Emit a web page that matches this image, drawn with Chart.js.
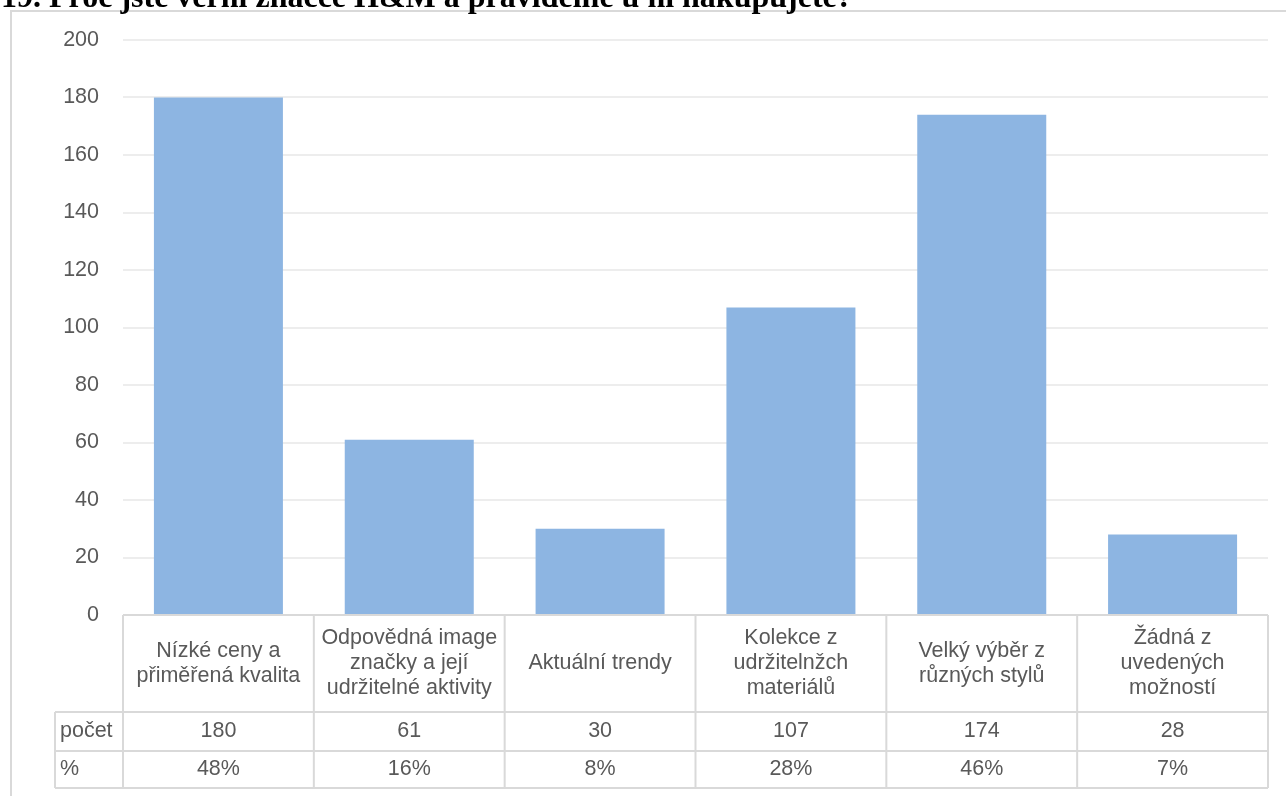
<!DOCTYPE html>
<html lang="cs">
<head>
  <meta charset="UTF-8">
  <title>Proč jste věrni značce H&amp;M</title>
  <script src="https://cdn.jsdelivr.net/npm/chart.js@4.4.1/dist/chart.umd.min.js"></script>
  <style>
    html, body { margin: 0; padding: 0; background: #fff; }
  </style>
</head>
<body>
  <canvas id="hmChart" width="1286" height="796"></canvas>

  <script>
    // data
    const titleText = '19. Proč jste věrni značce H&M a pravidelně u ni nakupujete?';
    const categories = [
      ['Nízké ceny a', 'přiměřená kvalita'],
      ['Odpovědná image', 'značky a její', 'udržitelné aktivity'],
      ['Aktuální trendy'],
      ['Kolekce z', 'udržitelnžch', 'materiálů'],
      ['Velký výběr z', 'různých stylů'],
      ['Žádná z', 'uvedených', 'možností']
    ];
    const counts = [180, 61, 30, 107, 174, 28];
    const percents = [48, 16, 8, 28, 46, 7];
    const rowNames = ['počet', '%'];
    const yMin = 0, yMax = 200, yStep = 20;

    const FONT = '"Liberation Sans", Arial, sans-serif';
    const TEXT = '#595959';
    const LINE = '#d9d9d9';

    // frame, title and the data table under the axis
    const tablePlugin = {
      id: 'tablePlugin',
      beforeDraw(chart) {
        const ctx = chart.ctx;
        ctx.save();
        ctx.fillStyle = '#fff';
        ctx.fillRect(0, 0, chart.width, chart.height);
        ctx.strokeStyle = LINE;
        ctx.lineWidth = 2;
        ctx.beginPath();
        ctx.moveTo(11, chart.height);
        ctx.lineTo(11, 11);
        ctx.lineTo(chart.width, 11);
        ctx.stroke();
        ctx.restore();
      },
      afterDraw(chart) {
        const { ctx, chartArea } = chart;
        const x = chart.scales.x;
        const half = (x.getPixelForValue(1) - x.getPixelForValue(0)) / 2;
        const top = chartArea.bottom;
        const r1 = 712, r2 = 751, r3 = 788;
        const left = 55;

        ctx.save();
        ctx.strokeStyle = LINE;
        ctx.lineWidth = 2;
        ctx.beginPath();
        // horizontal lines
        ctx.moveTo(x.getPixelForValue(0) - half, top); ctx.lineTo(chartArea.right, top);
        [r1, r2, r3].forEach(y => { ctx.moveTo(left, y); ctx.lineTo(chartArea.right, y); });
        // vertical lines
        ctx.moveTo(left, r1); ctx.lineTo(left, r3);
        for (let i = 0; i <= categories.length; i++) {
          const px = x.getPixelForValue(i) - half;
          ctx.moveTo(px, top); ctx.lineTo(px, r3);
        }
        ctx.stroke();

        ctx.fillStyle = TEXT;
        ctx.font = '21.5px ' + FONT;
        ctx.textBaseline = 'middle';

        ctx.textAlign = 'left';
        ctx.fillText(rowNames[0], left + 5, (r1 + r2) / 2);
        ctx.fillText(rowNames[1], left + 5, (r2 + r3) / 2);

        ctx.textAlign = 'center';
        const lh = 25;
        categories.forEach((lines, i) => {
          const cx = x.getPixelForValue(i);
          const mid = (top + r1) / 2;
          lines.forEach((t, j) => {
            ctx.fillText(t, cx, mid + (j - (lines.length - 1) / 2) * lh);
          });
          ctx.fillText(String(counts[i]), cx, (r1 + r2) / 2);
          ctx.fillText(percents[i] + '%', cx, (r2 + r3) / 2);
        });

        // title, cut at the top edge
        ctx.fillStyle = '#000';
        ctx.textAlign = 'left';
        ctx.textBaseline = 'alphabetic';
        ctx.font = 'bold 32px "Liberation Serif", "Times New Roman", serif';
        ctx.fillText(titleText, 1, 7);
        ctx.restore();
      }
    };

    new Chart(document.getElementById('hmChart'), {
      type: 'bar',
      data: {
        labels: categories,
        datasets: [{
          label: 'počet',
          data: counts,
          backgroundColor: '#8db5e2',
          borderWidth: 0,
          barPercentage: 0.676,
          categoryPercentage: 1
        }]
      },
      options: {
        responsive: false,
        animation: false,
        layout: { padding: { top: 40, right: 18, bottom: 181, left: 0 } },
        plugins: {
          legend: { display: false },
          tooltip: { enabled: false }
        },
        scales: {
          x: { display: false },
          y: {
            min: yMin,
            max: yMax,
            ticks: {
              stepSize: yStep,
              color: TEXT,
              font: { family: FONT, size: 21.5 },
              padding: 24
            },
            grid: { color: '#ededed', lineWidth: 2, drawTicks: false },
            border: { display: false },
            afterFit(scale) { scale.width = 123; }
          }
        }
      },
      plugins: [tablePlugin]
    });
  </script>
</body>
</html>
